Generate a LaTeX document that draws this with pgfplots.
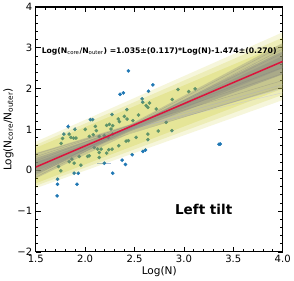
\documentclass[border=0pt]{standalone}
\usepackage{fontspec}
\setmainfont{DejaVu Sans}
\usepackage{pgfplots}
\pgfplotsset{compat=1.18}
\usepackage{pgfplotstable}
\definecolor{tabblue}{RGB}{31,119,180}
\definecolor{olivey}{RGB}{191,191,0}
\definecolor{crim}{RGB}{220,20,60}
\definecolor{errc}{RGB}{170,190,215}
\definecolor{lav}{RGB}{190,190,225}

\pgfplotstableread{
x y ex ey
1.716 -0.627 0 0.03
1.721 -0.342 0 0.03
1.721 -0.219 0 0.03
1.731 0.093 0 0.03
1.754 -0.012 0 0.03
1.757 0.658 0 0.03
1.771 0.781 0 0.04
1.785 0.887 0 0.03
1.828 1.069 0 0.06
1.838 0.887 0 0.03
1.838 0.209 0 0.03
1.856 0.806 0 0.03
1.866 0.273 0 0.03
1.883 0.789 0 0.03
1.889 0.174 0 0.03
1.889 -0.071 0 0.03
1.896 1.002 0 0.05
1.907 0.789 0 0.03
1.917 -0.342 0 0.03
1.930 -0.071 0 0.03
1.940 0.339 0 0.03
1.957 0.125 0 0.03
2.001 1.002 0 0.03
2.025 0.339 0 0.03
2.042 0.830 0 0.03
2.042 0.356 0 0.03
2.052 1.241 0 0.03
2.076 1.241 0 0.03
2.082 0.872 0 0.03
2.092 0.560 0 0.03
2.103 1.076 0 0.03
2.113 0.971 0 0.03
2.127 0.518 0 0.03
2.143 0.830 0 0.03
2.143 0.437 0 0.03
2.143 0.314 0 0.03
2.161 0.518 0 0.03
2.194 0.848 0 0.03
2.194 0.174 0.07 0.03
2.218 1.101 0 0.03
2.218 0.420 0 0.03
2.235 0.806 0 0.03
2.239 0.504 0 0.03
2.245 1.125 0 0.03
2.262 1.010 0 0.03
2.272 1.364 0 0.03
2.272 0.518 0 0.03
2.279 1.093 0 0.03
2.279 0.887 0 0.03
2.279 -0.071 0 0.03
2.336 1.256 0 0.03
2.340 0.602 0 0.03
2.347 1.192 0 0.03
2.354 1.862 0 0.03
2.374 0.248 0 0.03
2.387 1.894 0 0.03
2.397 1.322 0 0.03
2.408 0.143 0 0.03
2.415 0.715 0 0.03
2.422 1.486 0 0.03
2.425 1.256 0 0.03
2.438 2.435 0 0.03
2.438 0.725 0 0.03
2.476 0.381 0 0.03
2.483 1.216 0 0.03
2.516 0.806 0 0.03
2.540 1.354 0 0.03
2.577 1.747 0 0.03
2.584 1.666 0 0.03
2.584 0.462 0 0.03
2.611 0.494 0 0.03
2.618 1.585 0 0.03
2.635 1.543 0 0.03
2.635 0.887 0 0.03
2.635 0.749 0 0.03
2.641 1.936 0 0.03
2.651 1.649 0 0.03
2.686 2.091 0 0.03
2.720 1.501 0 0.03
2.740 0.961 0 0.03
2.821 1.174 0 0.03
2.879 0.971 0 0.03
2.882 1.732 0 0.03
2.940 1.978 0 0.03
3.048 1.929 0 0.03
3.113 1.993 0 0.03
3.355 0.636 0 0.03
3.368 0.646 0 0.03
}\pts

\begin{document}
\begin{tikzpicture}
\begin{axis}[
  scale only axis, width=246pt, height=244pt,
  xmin=1.5, xmax=4.0, ymin=-2, ymax=4,
  xtick={1.5,2.0,2.5,3.0,3.5,4.0},
  xticklabels={1.5,2.0,2.5,3.0,3.5,4.0},
  ytick={-2,-1,0,1,2,3,4},
  yticklabels={−2,−1,0,1,2,3,4},
  minor x tick num=4, minor y tick num=4,
  tick align=inside, xtick pos=both, ytick pos=both,
  major tick length=5pt, minor tick length=2.5pt,
  tick style={black, line width=0.8pt},
  axis line style={line width=1.1pt},
  ticklabel style={font=\fontsize{10}{12}\selectfont},
  xlabel={Log(N)}, ylabel={Log(N\textsubscript{core}/N\textsubscript{outer})},
  label style={font=\fontsize{10.5}{12}\selectfont},
  xlabel style={yshift=3pt},
  ylabel style={yshift=-3pt},
  clip mode=individual,
]
% data points
\addplot[only marks, mark=*, mark size=1.6pt, color=tabblue,
  error bars/.cd, x dir=both, x explicit, y dir=both, y explicit,
  error bar style={errc, line width=0.6pt}, error mark=none]
  table[x=x, y=y, x error=ex, y error=ey] {\pts};
% yellow bands
\addplot[draw=none, fill=olivey, fill opacity=0.14] coordinates {(1.5,0.70) (4,3.38) (4,1.72) (1.5,-0.44)} -- cycle;
\addplot[draw=none, fill=olivey, fill opacity=0.16] coordinates {(1.5,0.62) (4,3.25) (4,1.85) (1.5,-0.38)} -- cycle;
\addplot[draw=none, fill=olivey, fill opacity=0.18] coordinates {(1.5,0.55) (4,3.10) (4,2.00) (1.5,-0.32)} -- cycle;
% lavender sample lines
\addplot[lav, line width=0.5pt, opacity=0.5] coordinates {(2.3,0.92) (4,1.90)};
\addplot[lav, line width=0.5pt, opacity=0.5] coordinates {(2.3,0.90) (4,2.00)};
\addplot[lav, line width=0.5pt, opacity=0.5] coordinates {(2.3,0.93) (4,2.10)};
% grey bands
\addplot[draw=none, fill=gray, fill opacity=0.3] coordinates {(1.5,0.42) (2.45,1.12) (4,3.12) (4,2.02) (2.45,0.90) (1.5,-0.20)} -- cycle;
\addplot[draw=none, fill=gray, fill opacity=0.4] coordinates {(1.5,0.30) (2.45,1.07) (4,2.92) (4,2.35) (2.45,0.95) (1.5,-0.10)} -- cycle;
\addplot[draw=none, fill=gray, fill opacity=0.3] coordinates {(1.5,0.20) (2.45,1.04) (4,2.80) (4,2.50) (2.45,0.97) (1.5,-0.03)} -- cycle;
% grey sample lines
\addplot[gray, line width=0.4pt, opacity=0.4] coordinates {(1.5,0.33) (4,2.37)};
\addplot[gray, line width=0.4pt, opacity=0.4] coordinates {(1.5,-0.17) (4,2.97)};
\addplot[gray, line width=0.4pt, opacity=0.4] coordinates {(1.5,0.23) (4,2.52)};
\addplot[gray, line width=0.4pt, opacity=0.4] coordinates {(1.5,-0.07) (4,2.87)};
\addplot[gray, line width=0.4pt, opacity=0.4] coordinates {(1.5,0.40) (4,2.20)};
\addplot[gray, line width=0.4pt, opacity=0.4] coordinates {(1.5,-0.12) (4,3.05)};
\addplot[gray, line width=0.4pt, opacity=0.3] coordinates {(1.5,0.18) (4,2.05)};
% best fit
\addplot[crim, line width=1.5pt] coordinates {(1.5,0.0785) (4,2.666)};
\node[anchor=west, font=\fontsize{7.65}{8}\selectfont\bfseries] at (axis cs:1.525,2.9)
  {Log(N\textsubscript{\mdseries core}/N\textsubscript{\mdseries outer}) =1.035±(0.117)*Log(N)-1.474±(0.270)};
\node[font=\fontsize{13.5}{15}\selectfont\bfseries] at (axis cs:3.2,-0.96) {Left tilt};
\end{axis}
\end{tikzpicture}
\end{document}
